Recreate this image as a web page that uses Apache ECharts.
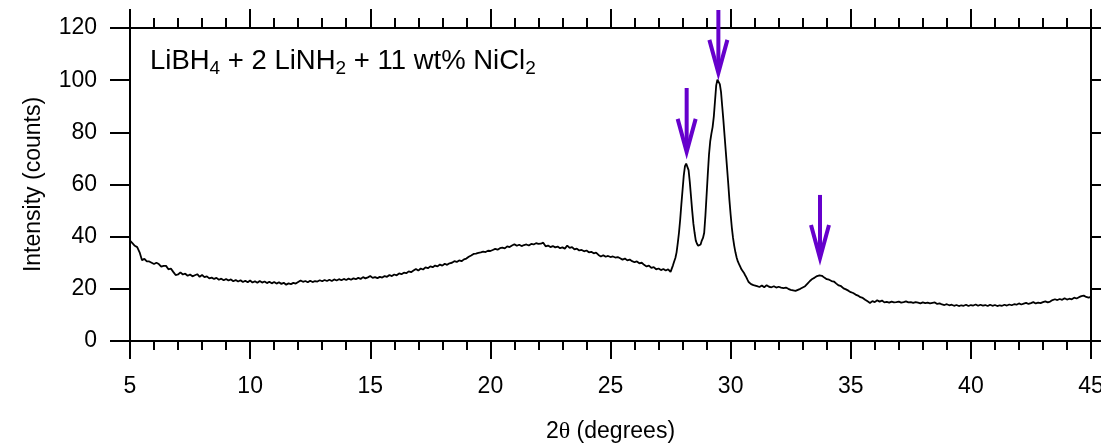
<!DOCTYPE html>
<html>
<head>
<meta charset="utf-8">
<script src="https://cdn.jsdelivr.net/npm/echarts@6/dist/echarts.min.js"></script>
<style>
html,body{margin:0;padding:0;background:#fff;}
#chart{width:1101px;height:445px;}
</style>
</head>
<body>
<div id="chart"></div>
<script>
// XRD scan: [2theta (deg), intensity (counts)]
const scanLow = [
[5.0,38.5],[5.1,37.5],[5.2,36.5],[5.3,36.0],[5.4,34.0],[5.5,31.0],[5.6,31.5],[5.7,30.5],[5.8,30.5],[5.9,30.0],
[6.0,29.5],[6.1,30.0],[6.2,29.5],[6.3,28.5],[6.4,28.8],[6.5,28.8],[6.6,27.5],[6.7,27.8],[6.8,26.5],[6.9,25.3],
[7.0,25.5],[7.1,26.3],[7.2,25.5],[7.3,25.8],[7.4,25.0],[7.5,25.5],[7.6,24.8],[7.7,25.2],[7.8,25.6],[7.9,24.6],
[8.0,25.3],[8.1,24.5],[8.2,24.8],[8.3,24.0],[8.4,24.3],[8.5,23.8],[8.6,24.2],[8.7,23.5],[8.8,23.9],[8.9,23.3],
[9.0,23.8],[9.1,23.2],[9.2,23.6],[9.3,22.9],[9.4,23.4],[9.5,22.8],[9.6,23.3],[9.7,22.6],[9.8,23.1],[9.9,22.5],
[10.0,23.2],[10.1,22.4],[10.2,22.9],[10.3,22.3],[10.4,23.0],[10.5,22.4],[10.6,22.8],[10.7,22.2],[10.8,22.7],[10.9,22.1],
[11.0,22.6],[11.1,22.0],[11.2,22.5],[11.3,21.9],[11.4,22.3],[11.5,21.6],[11.6,22.1],[11.7,21.8],[11.8,22.3],[11.9,22.0],
[12.0,22.6],[12.1,23.2],[12.2,22.7],[12.3,23.0],[12.4,22.5],[12.5,23.1],[12.6,22.6],[12.7,23.0],[12.8,22.8],[12.9,23.3],
[13.0,22.9],[13.1,23.4],[13.2,23.0],[13.3,23.5],[13.4,23.0],[13.5,23.6],[13.6,23.2],[13.7,23.7],[13.8,23.3],[13.9,23.8],
[14.0,23.4],[14.1,23.9],[14.2,23.5],[14.3,24.0],[14.4,23.7],[14.5,24.2],[14.6,23.8],[14.7,24.5],[14.8,24.0],[14.9,24.4],
[15.0,24.9],[15.1,24.2],[15.2,24.5],[15.3,24.1],[15.4,24.6],[15.5,24.3],[15.6,24.9],[15.7,24.6],[15.8,25.3],[15.9,24.9],
[16.0,25.5],[16.1,25.2],[16.2,25.9],[16.3,25.6],[16.4,26.2],[16.5,26.0],[16.6,26.7],[16.7,26.4],[16.8,27.0],[16.9,27.6],
[17.0,27.0],[17.1,27.8],[17.2,27.4],[17.3,28.2],[17.4,27.9],[17.5,28.6],[17.6,28.3],[17.7,28.9],[17.8,28.6],[17.9,29.3],
[18.0,28.9],[18.1,29.6],[18.2,29.2],[18.3,29.8],[18.4,30.0],[18.5,30.6],[18.6,30.3],[18.7,30.9],[18.8,30.6],[18.9,31.3],
[19.0,31.6],[19.1,32.3],[19.2,32.8],[19.3,33.4],[19.4,33.5],[19.5,33.8],[19.6,34.0],[19.7,34.3],[19.8,34.1],[19.9,34.6],
[20.0,34.5],[20.1,34.9],[20.2,35.3],[20.3,35.0],[20.4,35.6],[20.5,35.8],[20.6,35.5],[20.7,36.3],[20.8,36.0],[20.9,36.6],
[21.0,37.1],[21.1,36.5],[21.2,36.9],[21.3,36.4],[21.4,36.8],[21.5,37.0],[21.6,36.6],[21.7,37.2],[21.8,37.0],[21.9,37.5],
[22.0,37.2],[22.1,37.3],[22.2,37.7],[22.3,36.3],[22.4,36.6],[22.5,36.0],[22.6,36.4],[22.7,35.9],[22.8,36.2],[22.9,35.6],
[23.0,35.9],[23.1,35.4],[23.2,36.6],[23.3,35.7],[23.4,36.0],[23.5,35.1],[23.6,35.4],[23.7,34.7],[23.8,34.9],[23.9,34.4],
[24.0,34.7],[24.1,34.0],[24.2,34.2],[24.3,33.6],[24.4,33.9],[24.5,33.0],[24.6,32.4],[24.7,32.9],[24.8,32.3],[24.9,32.6],
[25.0,32.2],[25.1,32.4],[25.2,32.0],[25.3,32.2],[25.4,31.7],[25.5,31.2],[25.6,31.6],[25.7,30.9],[25.8,31.2],[25.9,30.6],
[26.0,30.2],[26.1,30.5],[26.2,29.8],[26.3,30.0],[26.4,29.2],[26.5,28.6],[26.6,28.9],[26.7,28.0],[26.8,28.3],[26.9,27.5],
[27.0,27.8],[27.1,27.2],[27.2,27.6],[27.3,27.0],[27.4,27.5]
];
const scanPeaks = [
[27.5,26.5],[27.55,27.0],[27.6,29.0],[27.65,30.5],[27.7,31.8],[27.75,34.0],[27.8,37.5],[27.85,41.5],[27.9,46.5],[27.95,52.5],
[28.0,58.0],[28.05,63.5],[28.1,67.0],[28.15,68.0],[28.2,67.5],[28.25,65.5],[28.3,61.0],[28.35,55.5],[28.4,50.0],[28.45,45.0],
[28.5,41.5],[28.55,38.5],[28.6,37.3],[28.65,36.5],[28.7,36.3],[28.75,37.0],[28.8,38.5],[28.85,39.5],[28.9,41.5],[28.95,48.0],
[29.0,56.0],[29.05,64.0],[29.1,71.5],[29.15,76.5],[29.2,79.5],[29.25,82.0],[29.3,86.0],[29.35,92.0],[29.4,98.0],[29.45,100.2],
[29.5,100.3],[29.55,98.5],[29.6,95.5],[29.65,90.0],[29.7,84.5],[29.75,78.5],[29.8,72.5],[29.85,66.5],[29.9,60.5],[29.95,54.0],
[30.0,48.5],[30.05,43.5],[30.1,39.5],[30.15,36.5],[30.2,34.0],[30.25,32.0],[30.3,30.5],[30.35,29.5],[30.4,28.5],[30.45,27.5],
[30.5,26.8],[30.55,26.2],[30.6,25.3],[30.65,24.5],[30.7,23.5],[30.75,22.6],[30.8,22.2],[30.85,21.8],[30.9,22.0],[30.95,21.4],
[31.0,21.6]
];
const scanHigh = [
[31.1,21.0],[31.2,20.7],[31.3,21.3],[31.4,20.6],[31.5,21.4],[31.6,20.8],[31.7,20.6],[31.8,21.0],[31.9,20.5],
[32.0,20.8],[32.1,20.5],[32.2,20.3],[32.3,20.5],[32.4,20.0],[32.5,19.6],[32.6,19.4],[32.7,19.2],[32.8,19.6],[32.9,20.0],
[33.0,20.5],[33.1,21.0],[33.2,22.0],[33.3,23.0],[33.4,23.8],[33.5,24.3],[33.6,24.9],[33.7,25.2],[33.8,25.0],[33.9,24.3],
[34.0,23.7],[34.1,23.5],[34.2,23.0],[34.3,22.8],[34.4,22.0],[34.5,21.3],[34.6,21.0],[34.7,20.2],[34.8,19.8],[34.9,19.3],
[35.0,18.7],[35.1,18.4],[35.2,17.8],[35.3,17.4],[35.4,16.8],[35.5,16.5],[35.6,15.8],[35.7,15.2],[35.8,14.6],[35.9,15.3],
[36.0,14.9],[36.1,15.6],[36.2,15.1],[36.3,15.5],[36.4,14.8],[36.5,15.0],[36.6,14.7],[36.7,15.1],[36.8,14.8],[36.9,14.9],
[37.0,15.1],[37.1,14.7],[37.2,14.9],[37.3,15.2],[37.4,14.8],[37.5,14.9],[37.6,14.6],[37.7,14.9],[37.8,14.7],[37.9,14.4],
[38.0,14.8],[38.1,14.5],[38.2,14.7],[38.3,14.4],[38.4,14.6],[38.5,14.8],[38.6,14.2],[38.7,14.4],[38.8,14.0],[38.9,13.8],
[39.0,14.1],[39.1,13.7],[39.2,13.9],[39.3,13.5],[39.4,13.8],[39.5,13.4],[39.6,13.7],[39.7,13.5],[39.8,13.9],[39.9,13.4],
[40.0,13.8],[40.1,13.6],[40.2,14.0],[40.3,13.5],[40.4,13.9],[40.5,13.6],[40.6,13.8],[40.7,13.4],[40.8,13.9],[40.9,13.5],
[41.0,13.8],[41.1,13.4],[41.2,13.7],[41.3,13.5],[41.4,13.9],[41.5,13.6],[41.6,14.0],[41.7,13.7],[41.8,14.1],[41.9,13.9],
[42.0,14.4],[42.1,14.0],[42.2,14.3],[42.3,14.6],[42.4,14.2],[42.5,14.5],[42.6,14.9],[42.7,14.4],[42.8,14.7],[42.9,14.5],
[43.0,14.9],[43.1,15.2],[43.2,14.8],[43.3,15.1],[43.4,15.7],[43.5,16.0],[43.6,15.7],[43.7,16.1],[43.8,15.8],[43.9,16.4],
[44.0,15.9],[44.1,16.2],[44.2,16.0],[44.3,16.6],[44.4,16.3],[44.5,16.8],[44.6,17.2],[44.7,17.4],[44.8,16.9],[44.9,16.6],
[45.0,16.9]
];

// Peak markers (arrows): position, arrow tip intensity, arrow tail intensity
const arrowX    = [28.17, 29.49, 33.72];
const arrowTip  = [72.5, 102.8, 31.8];
const arrowTail = [97.0, 126.9, 56.0];

const xTicks = {min: 5, max: 45, interval: 5};
const yTicks = {min: 0, max: 120, interval: 20};

const FONT = 'Liberation Sans, Arial, sans-serif';
const scan = scanLow.concat(scanPeaks, scanHigh);
const arrows = arrowX.map((x, i) => [x, arrowTip[i], arrowTail[i]]);

const chart = echarts.init(document.getElementById('chart'));
const axisLine = {show: true, onZero: false, lineStyle: {color: '#000', width: 2}};
chart.setOption({
  animation: false,
  grid: {left: 130, right: 10, top: 28, bottom: 104, containLabel: false, outerBoundsMode: 'none'},
  xAxis: [{
    type: 'value', position: 'bottom', min: xTicks.min, max: xTicks.max, interval: xTicks.interval,
    axisLine: axisLine,
    axisTick: {show: true, inside: false, length: 18, lineStyle: {color: '#000', width: 2}},
    minorTick: {show: true, splitNumber: 5, length: 9, lineStyle: {color: '#000', width: 2}},
    splitLine: {show: false},
    axisLabel: {show: true, margin: 34, color: '#000', fontSize: 23, fontFamily: FONT},
    name: '{a|2}{t|θ}{a| (degrees)}', nameLocation: 'middle', nameGap: 79,
    nameTextStyle: {color: '#000', fontSize: 23, fontFamily: FONT,
      rich: {a: {fontSize: 23, fontFamily: FONT, color: '#000'}, t: {fontSize: 24, fontFamily: 'Liberation Serif, serif', color: '#000'}}}
  }, {
    type: 'value', position: 'top', min: xTicks.min, max: xTicks.max, interval: xTicks.interval,
    axisLine: axisLine,
    axisTick: {show: true, inside: false, length: 19, lineStyle: {color: '#000', width: 2}},
    minorTick: {show: true, splitNumber: 5, length: 10, lineStyle: {color: '#000', width: 2}},
    splitLine: {show: false},
    axisLabel: {show: false}
  }],
  yAxis: [{
    type: 'value', position: 'left', min: yTicks.min, max: yTicks.max, interval: yTicks.interval,
    axisLine: axisLine,
    axisTick: {show: true, inside: false, length: 20, lineStyle: {color: '#000', width: 2}},
    splitLine: {show: false},
    axisLabel: {show: true, margin: 33, color: '#000', fontSize: 23, fontFamily: FONT},
    name: 'Intensity (counts)', nameLocation: 'middle', nameGap: 85,
    nameTextStyle: {color: '#000', fontSize: 23, fontFamily: FONT}
  }, {
    type: 'value', position: 'right', min: yTicks.min, max: yTicks.max, interval: yTicks.interval,
    axisLine: axisLine,
    axisTick: {show: true, inside: false, length: 20, lineStyle: {color: '#000', width: 2}},
    splitLine: {show: false},
    axisLabel: {show: false}
  }],
  graphic: [{
    type: 'text', left: 150, top: 47, z: 100,
    style: {
      text: '{m|LiBH}{s|4}{m| + 2 LiNH}{s|2}{m| + 11 wt% NiCl}{s|2}',
      rich: {
        m: {fontSize: 27.5, fontFamily: FONT, color: '#000', lineHeight: 34, verticalAlign: 'top'},
        s: {fontSize: 19, fontFamily: FONT, color: '#000', lineHeight: 34, verticalAlign: 'top', padding: [12, 0, 0, 0]}
      }
    }
  }],
  series: [{
    type: 'line', xAxisIndex: 0, yAxisIndex: 0, data: scan,
    showSymbol: false, symbol: 'none',
    lineStyle: {color: '#000', width: 1.8}, z: 3
  }, {
    type: 'custom', xAxisIndex: 0, yAxisIndex: 0, data: arrows, clip: false, z: 5,
    renderItem: function (params, api) {
      const x = api.value(0), tip = api.value(1), tail = api.value(2);
      const p1 = api.coord([x, tail]);
      const p2 = api.coord([x, tip]);
      const col = '#6600cc';
      return {
        type: 'group',
        children: [
          {type: 'line', shape: {x1: p1[0], y1: p1[1], x2: p2[0], y2: p2[1] - 3},
           style: {stroke: col, lineWidth: 4}},
          {type: 'polyline', shape: {points: [[p2[0] - 9, p2[1] - 33], [p2[0], p2[1]], [p2[0] + 9, p2[1] - 33]]},
           style: {stroke: col, lineWidth: 4, fill: null, lineJoin: 'miter'}}
        ]
      };
    }
  }]
});
</script>
</body>
</html>
